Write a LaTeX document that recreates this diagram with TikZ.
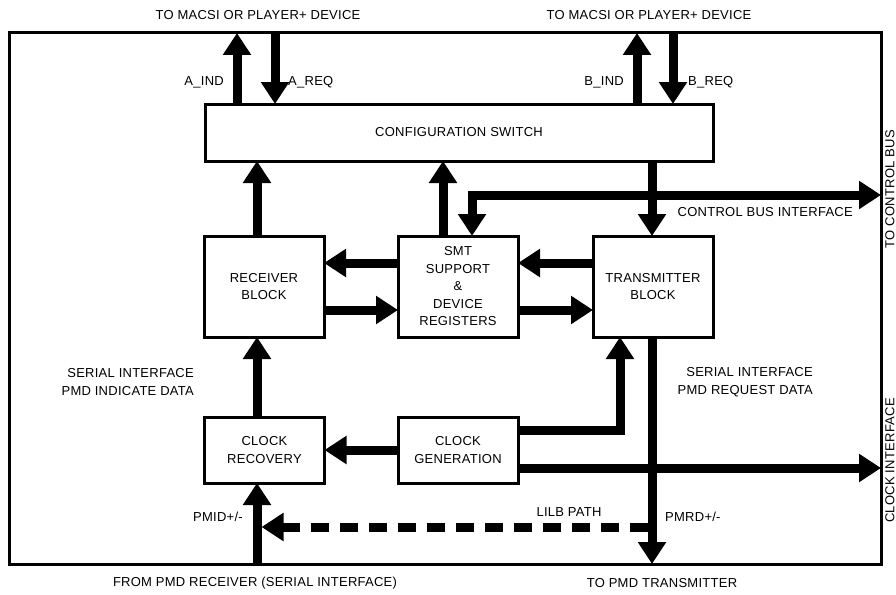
\documentclass[tikz,border=0pt]{standalone}
\usepackage{fontspec}
\setmainfont[LetterSpace=2]{Liberation Sans}
\usetikzlibrary{arrows.meta}
\tikzset{
  blk/.style={draw, line width=3pt, inner sep=0pt, outer sep=0pt, align=center, minimum width=120pt},
  bus/.style={line width=9pt, -{Triangle[length=22pt,width=27pt]}},
  twobus/.style={line width=9pt, {Triangle[length=22pt,width=27pt]}-{Triangle[length=22pt,width=27pt]}},
  lbl/.style={inner sep=0pt, align=right}
}
\begin{document}
\begin{tikzpicture}[x=1pt, y=-1pt, font=\fontsize{13}{17.5}\selectfont]
\useasboundingbox (0,0) rectangle (896,594);
% frame and blocks
\node [draw, line width=3pt, inner sep=0pt, outer sep=0pt, minimum width=872pt, minimum height=531pt] (frame) at (445,298.5) {};
\node [blk, minimum width=508pt, minimum height=57pt] (cfg) at (459,132.5) {CONFIGURATION SWITCH};
\node [blk, minimum height=101pt] (recv) at (264,286.5) {RECEIVER\\BLOCK};
\node [blk, minimum height=101pt] (smt) at (458,286.5) {SMT\\SUPPORT\\\&\\DEVICE\\REGISTERS};
\node [blk, minimum height=101pt] (xmit) at (653,286.5) {TRANSMITTER\\BLOCK};
\node [blk, minimum height=66pt] (clkrec) at (264.5,450) {CLOCK\\RECOVERY};
\node [blk, minimum height=66pt] (clkgen) at (458,450) {CLOCK\\GENERATION};

% lanes
\coordinate (aind) at (237,0);
\coordinate (areq) at (275,0);
\coordinate (bind) at (637,0);
\coordinate (breq) at (673,0);
\coordinate (rx) at (257,0);
\coordinate (up) at (443,0);
\coordinate (tx) at (652,0);
\coordinate (ctl) at (472,0);
\coordinate (gen) at (620,0);
\coordinate (busrow) at (0,195);
\coordinate (leftrow) at (0,263);
\coordinate (rightrow) at (0,310);
\coordinate (genrow) at (0,430);
\coordinate (clkrow) at (0,468);
\coordinate (lilb) at (0,527);

% buses
\draw [bus] (cfg.north -| aind) -- (frame.north -| aind);
\draw [bus] (frame.north -| areq) -- (cfg.north -| areq);
\draw [bus] (cfg.north -| bind) -- (frame.north -| bind);
\draw [bus] (frame.north -| breq) -- (cfg.north -| breq);
\draw [bus] (recv.north -| rx) -- (cfg.south -| rx);
\draw [bus] (smt.north -| up) -- (cfg.south -| up);
\draw [twobus] (smt.north -| ctl) -- (ctl |- busrow) -- (frame.east |- busrow);
\draw [bus] (cfg.south -| tx) -- (xmit.north -| tx);
\draw [bus] (smt.west |- leftrow) -- (recv.east |- leftrow);
\draw [bus] (recv.east |- rightrow) -- (smt.west |- rightrow);
\draw [bus] (xmit.west |- leftrow) -- (smt.east |- leftrow);
\draw [bus] (smt.east |- rightrow) -- (xmit.west |- rightrow);
\draw [bus] (clkrec.north -| rx) -- (recv.south -| rx);
\draw [bus] (frame.south -| rx) -- (clkrec.south -| rx);
\draw [bus] (clkgen.west) -- (clkrec.east);
\draw [bus] (clkgen.east |- genrow) -- (gen |- genrow) -- (xmit.south -| gen);
\draw [bus] (clkgen.east |- clkrow) -- (frame.east |- clkrow);
\draw [bus] (xmit.south -| tx) -- (frame.south -| tx);
\draw [bus, dash pattern=on 18pt off 11pt, shorten <=4.5pt, shorten >=4.5pt] (tx |- lilb) -- (rx |- lilb);

% labels
\node [lbl] (topa) at (258,15) {TO MACSI OR PLAYER+ DEVICE};
\node [lbl] (topb) at (649,15) {TO MACSI OR PLAYER+ DEVICE};
\node [lbl, anchor=east] (aindl) at (224,82) {A\_IND};
\node [lbl, anchor=west] (areql) at (288,82) {A\_REQ};
\node [lbl, anchor=east] (bindl) at (624,82) {B\_IND};
\node [lbl, anchor=west] (breql) at (688,82) {B\_REQ};
\node [lbl, anchor=east] (ctll) at (853,212) {CONTROL BUS INTERFACE};
\node [lbl, anchor=east] (rxdata) at (194,382) {SERIAL INTERFACE\\PMD INDICATE DATA};
\node [lbl, anchor=east] (txdata) at (813,382) {SERIAL INTERFACE\\PMD REQUEST DATA};
\node [lbl, anchor=east] (pmid) at (243,517) {PMID+/-};
\node [lbl, anchor=west] (pmrd) at (665,517) {PMRD+/-};
\node [lbl] (lilbl) at (569,512) {LILB PATH};
\node [lbl] (fromrx) at (255,583) {FROM PMD RECEIVER (SERIAL INTERFACE)};
\node [lbl] (totx) at (662,583) {TO PMD TRANSMITTER};
\node [lbl, rotate=90, anchor=east] (ctlbus) at (890,130) {TO CONTROL BUS};
\node [lbl, rotate=90, anchor=east] (clkif) at (890,398) {CLOCK INTERFACE};
\end{tikzpicture}
\end{document}
